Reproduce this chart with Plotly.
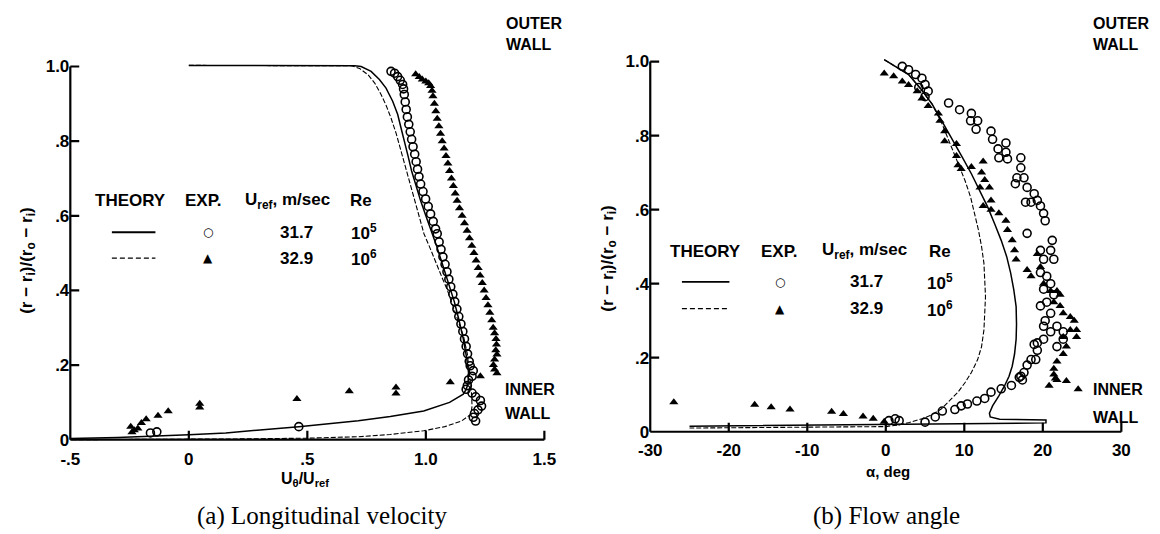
import plotly.graph_objects as go

W, H = 1160, 534

# ---------------- DATA: (a) Longitudinal velocity ----------------
a_theory_solid_x = [0.0, 0.3, 0.5, 0.65, 0.70, 0.727, 0.769, 0.804, 0.832, 0.86, 0.881, 0.895, 0.91, 0.925,
                    0.94, 0.958, 0.978, 1.0, 1.023, 1.045, 1.07, 1.095, 1.12, 1.14, 1.158, 1.172, 1.18, 1.178,
                    1.17, 1.158, 1.10, 0.991, 0.85, 0.715, 0.60, 0.464, 0.30, 0.156, 0.0, -0.12, -0.30, -0.50]
a_theory_solid_y = [1.003, 1.003, 1.003, 1.003, 1.002, 1.0, 0.987, 0.965, 0.942, 0.907, 0.872, 0.836, 0.80, 0.76,
                    0.72, 0.68, 0.64, 0.60, 0.56, 0.52, 0.47, 0.42, 0.37, 0.32, 0.27, 0.22, 0.18, 0.15,
                    0.135, 0.122, 0.10, 0.077, 0.062, 0.051, 0.043, 0.035, 0.026, 0.018, 0.013, 0.010, 0.006, 0.003]
a_theory_dash_x = [0.0, 0.3, 0.6, 0.686, 0.72, 0.756, 0.785, 0.811, 0.833, 0.853, 0.875, 0.895, 0.915, 0.936,
                   0.964, 0.992, 1.02, 1.048, 1.07, 1.09, 1.11, 1.131, 1.159, 1.175, 1.185, 1.192, 1.195, 1.19,
                   1.15, 1.08, 0.991, 0.85, 0.715, 0.50, 0.20, -0.20, -0.50]
a_theory_dash_y = [1.003, 1.003, 1.003, 1.002, 0.995, 0.978, 0.955, 0.925, 0.895, 0.862, 0.82, 0.774, 0.73, 0.685,
                   0.62, 0.552, 0.51, 0.464, 0.432, 0.402, 0.366, 0.331, 0.277, 0.23, 0.18, 0.13, 0.09, 0.068,
                   0.05, 0.035, 0.024, 0.014, 0.008, 0.004, 0.002, 0.001, 0.0]
a_circ_x = [0.853, 0.868, 0.881, 0.892, 0.902, 0.906, 0.909, 0.913, 0.917, 0.922, 0.928, 0.934, 0.94, 0.946,
            0.953, 0.959, 0.965, 0.971, 0.978, 0.988, 0.999, 1.01, 1.02, 1.031, 1.041, 1.048, 1.056, 1.064,
            1.072, 1.081, 1.089, 1.097, 1.105, 1.114, 1.122, 1.131, 1.139, 1.148, 1.156, 1.163, 1.17, 1.176,
            1.183, 1.187, 1.20, 1.195, 1.18, 1.175, 1.17, 1.195, 1.21, 1.23, 1.235, 1.22, 1.205, 1.20, 1.21,
            0.464, -0.162, -0.135]
a_circ_y = [0.987, 0.982, 0.973, 0.963, 0.952, 0.94, 0.925, 0.905, 0.885, 0.865, 0.845, 0.825, 0.805, 0.785,
            0.765, 0.745, 0.725, 0.705, 0.685, 0.665, 0.645, 0.625, 0.605, 0.585, 0.565, 0.552, 0.53, 0.51,
            0.49, 0.47, 0.45, 0.43, 0.41, 0.39, 0.37, 0.35, 0.33, 0.31, 0.29, 0.27, 0.25, 0.23,
            0.21, 0.198, 0.185, 0.17, 0.16, 0.145, 0.135, 0.125, 0.115, 0.105, 0.09, 0.08, 0.07, 0.06, 0.05,
            0.035, 0.018, 0.021]
a_tri_x = [0.957, 0.972, 0.985, 1.0, 1.012, 1.02, 1.026, 1.03, 1.036, 1.042, 1.048, 1.055, 1.062, 1.069,
           1.077, 1.085, 1.093, 1.10, 1.108, 1.116, 1.124, 1.132, 1.142, 1.153, 1.163, 1.174, 1.184, 1.194,
           1.203, 1.212, 1.221, 1.229, 1.238, 1.246, 1.254, 1.262, 1.27, 1.278, 1.284, 1.29, 1.296, 1.298,
           1.295, 1.30, 1.29, 1.285, 1.29, 1.30, 1.23,
           1.103, 0.874, 0.874, 0.677, 0.456, 0.046, 0.046, -0.087, -0.13, -0.18, -0.20, -0.245, -0.23,
           -0.215, -0.24]
a_tri_y = [0.979, 0.972, 0.965, 0.96, 0.955, 0.948, 0.935, 0.92, 0.90, 0.88, 0.86, 0.84, 0.82, 0.80,
           0.78, 0.76, 0.74, 0.72, 0.70, 0.68, 0.66, 0.64, 0.62, 0.60, 0.58, 0.56, 0.54, 0.52,
           0.50, 0.48, 0.46, 0.44, 0.42, 0.40, 0.38, 0.36, 0.34, 0.32, 0.30, 0.285, 0.27, 0.255,
           0.24, 0.228, 0.215, 0.20, 0.188, 0.178, 0.17,
           0.154, 0.14, 0.124, 0.13, 0.109, 0.096, 0.086, 0.076, 0.064, 0.055, 0.045, 0.035, 0.025,
           0.03, 0.02]

# ---------------- DATA: (b) Flow angle ----------------
b_theory_solid_x = [-0.2, 1.0, 2.9, 4.5, 5.9, 7.2, 8.4, 9.7, 10.9, 12.0, 13.0, 13.9, 14.7, 15.4, 15.9, 16.3,
                    16.6, 16.65, 16.6, 16.4, 16.1, 15.7, 15.1, 14.4, 13.6, 13.2, 13.3, 14.5, 20.4, 20.4,
                    10.0, 0.0, -10.0, -25.0]
b_theory_solid_y = [1.005, 0.99, 0.965, 0.925, 0.885, 0.837, 0.79, 0.743, 0.697, 0.65, 0.606, 0.56, 0.517,
                    0.473, 0.429, 0.384, 0.338, 0.29, 0.25, 0.21, 0.177, 0.15, 0.123, 0.097, 0.07, 0.05,
                    0.04, 0.034, 0.032, 0.024, 0.022, 0.02, 0.017, 0.015]
b_theory_dash_x = [-0.2, 1.0, 2.9, 4.5, 5.9, 7.2, 8.4, 9.3, 10.1, 10.8, 11.3, 11.8, 12.2, 12.5, 12.6, 12.7,
                   12.6, 12.5, 12.2, 11.7, 10.9, 10.1, 9.2, 8.2, 7.1, 5.8, 4.6, 3.0, 1.5, 0.0, -10.0, -25.0]
b_theory_dash_y = [1.005, 0.99, 0.965, 0.925, 0.885, 0.83, 0.767, 0.72, 0.678, 0.634, 0.59, 0.545, 0.50,
                   0.455, 0.41, 0.365, 0.32, 0.275, 0.23, 0.195, 0.16, 0.133, 0.107, 0.085, 0.062, 0.045,
                   0.035, 0.025, 0.018, 0.014, 0.012, 0.01]
b_circ_x = [2.1, 2.9, 3.8, 4.6, 5.0, 4.2, 5.4, 5.0, 8.0, 9.4, 10.9, 10.8, 11.7, 11.5, 13.4, 13.6, 14.3,
            15.3, 15.3, 15.5, 14.4, 17.2, 17.2, 16.7, 16.5, 17.6, 18.0, 18.9, 19.3, 18.5, 17.8, 19.7, 20.1,
            20.3, 18.0, 21.2, 21.0, 19.7, 20.1, 21.4, 19.7, 20.5, 21.0, 20.1, 21.4, 20.5, 19.7, 21.0, 20.3,
            20.1, 21.0, 21.8, 22.6, 22.6, 21.8, 20.1, 19.3, 18.9, 19.3, 19.1, 18.5, 18.0, 17.6, 17.2, 17.4,
            17.0, 16.0, 14.7, 13.4, 12.6, 11.6, 10.4, 9.6, 8.8, 7.2, 6.3, 5.0, 1.2, 0.4, 1.7]
b_circ_y = [0.987, 0.978, 0.965, 0.955, 0.938, 0.93, 0.92, 0.905, 0.888, 0.87, 0.86, 0.84, 0.84, 0.817,
            0.812, 0.79, 0.764, 0.78, 0.755, 0.737, 0.74, 0.74, 0.713, 0.686, 0.67, 0.686, 0.66, 0.643,
            0.625, 0.62, 0.62, 0.61, 0.59, 0.57, 0.536, 0.517, 0.49, 0.49, 0.466, 0.466, 0.43, 0.42, 0.40,
            0.385, 0.37, 0.35, 0.34, 0.32, 0.30, 0.285, 0.27, 0.285, 0.27, 0.25, 0.23, 0.25, 0.24, 0.236,
            0.22, 0.195, 0.195, 0.18, 0.16, 0.15, 0.14, 0.147, 0.125, 0.116, 0.107, 0.09, 0.083, 0.075,
            0.07, 0.06, 0.056, 0.04, 0.026, 0.035, 0.03, 0.03]
b_tri_x = [-0.2, 1.0, 2.1, 2.9, 4.0, 4.6, 5.4, 6.7, 6.9, 7.5, 7.5, 9.0, 9.0, 9.2, 9.6, 10.9, 12.4, 12.2,
           12.6, 12.0, 13.2, 13.4, 12.4, 13.4, 14.4, 15.3, 15.5, 16.1, 16.4, 16.6, 18.0, 18.5, 19.3, 19.7,
           20.1, 21.0, 21.8, 22.2, 21.4, 22.2, 22.6, 23.5, 24.0, 24.3, 24.3, 23.5, 22.6, 23.0, 22.6, 21.8,
           21.4, 21.4, 21.8, 20.8, 21.6, 23.0, 24.5,
           -27.0, -16.7, -14.6, -12.2, -6.9, -5.4, -2.9, -1.6, -0.2]
b_tri_y = [0.968, 0.96, 0.946, 0.937, 0.92, 0.90, 0.88, 0.86, 0.84, 0.812, 0.785, 0.777, 0.745, 0.72,
           0.71, 0.715, 0.73, 0.70, 0.68, 0.66, 0.66, 0.625, 0.61, 0.60, 0.59, 0.57, 0.545, 0.517, 0.49,
           0.465, 0.437, 0.42, 0.48, 0.445, 0.40, 0.38, 0.38, 0.37, 0.35, 0.34, 0.32, 0.31, 0.30, 0.275,
           0.256, 0.275, 0.256, 0.23, 0.21, 0.19, 0.17, 0.155, 0.14, 0.124, 0.144, 0.137, 0.115,
           0.08, 0.073, 0.066, 0.06, 0.054, 0.048, 0.041, 0.035, 0.027]

# axis ticks
a_xticks = [-0.5, 0, 0.5, 1.0, 1.5]
a_xlabels = ["-.5", "0", ".5", "1.0", "1.5"]
b_xticks = [-30, -20, -10, 0, 10, 20, 30]
b_xlabels = ["-30", "-20", "-10", "0", "10", "20", "30"]
yticks = [0, 0.2, 0.4, 0.6, 0.8, 1.0]
ylabels = ["0", ".2", ".4", ".6", ".8", "1.0"]

# ---------------- layout helpers (pixel anchors) ----------------
def px(X):
    return X / W

def py(Y):
    return 1 - Y / H

def x_domain(v0, X0, v1, X1, lo, hi):
    s = (X1 - X0) / (v1 - v0)
    return [px(X0 + (lo - v0) * s), px(X0 + (hi - v0) * s)]

def y_domain(v0, Y0, v1, Y1, lo, hi):
    s = (Y1 - Y0) / (v1 - v0)
    return [py(Y0 + (lo - v0) * s), py(Y0 + (hi - v0) * s)]

SANS = "Liberation Sans"
SERIF = "Liberation Serif"

fig = go.Figure()

def add_panel(xa, ya, sx, sy, dx, dy, cx, cy, tx, ty):
    fig.add_trace(go.Scatter(x=sx, y=sy, mode="lines", line=dict(color="black", width=1.5),
                             xaxis=xa, yaxis=ya, hoverinfo="skip"))
    fig.add_trace(go.Scatter(x=dx, y=dy, mode="lines", line=dict(color="black", width=1.1, dash="5px,2px"),
                             xaxis=xa, yaxis=ya, hoverinfo="skip"))
    fig.add_trace(go.Scatter(x=cx, y=cy, mode="markers",
                             marker=dict(symbol="circle-open", size=8, color="black", line=dict(width=1.6)),
                             xaxis=xa, yaxis=ya))
    fig.add_trace(go.Scatter(x=tx, y=ty, mode="markers",
                             marker=dict(symbol="triangle-up", size=8, color="black"),
                             xaxis=xa, yaxis=ya))

add_panel("x", "y", a_theory_solid_x, a_theory_solid_y, a_theory_dash_x, a_theory_dash_y,
          a_circ_x, a_circ_y, a_tri_x, a_tri_y)
add_panel("x2", "y2", b_theory_solid_x, b_theory_solid_y, b_theory_dash_x, b_theory_dash_y,
          b_circ_x, b_circ_y, b_tri_x, b_tri_y)

tickfont = dict(family=SANS, size=17, color="black", weight="bold")
common = dict(showgrid=False, zeroline=False, showline=False, ticks="", tickfont=tickfont, tickmode="array")

# pixel anchors: panel (a) x -0.5 -> 66px, 1.5 -> 545px ; y 0 -> 441px, 1 -> 65px
A_X0, A_X1, A_Y0, A_Y1 = 66, 545, 441, 65
B_X0, B_X1, B_Y0, B_Y1 = 652, 1128, 433, 60

fig.update_layout(
    width=W, height=H, margin=dict(l=0, r=0, t=0, b=0),
    paper_bgcolor="white", plot_bgcolor="rgba(0,0,0,0)", showlegend=False,
    xaxis=dict(domain=x_domain(-0.5, A_X0, 1.5, A_X1, -0.52, 1.52), range=[-0.52, 1.52],
               anchor="free", position=py(A_Y0), tickvals=a_xticks, ticktext=a_xlabels,
               ticklabelstandoff=7, **common),
    yaxis=dict(domain=y_domain(0, A_Y0, 1, A_Y1, -0.02, 1.02), range=[-0.02, 1.02],
               anchor="free", position=px(A_X0), tickvals=yticks, ticktext=ylabels,
               ticklabelstandoff=1, **common),
    xaxis2=dict(domain=x_domain(-30, B_X0, 30, B_X1, -31, 31), range=[-31, 31],
                anchor="free", position=py(B_Y0), tickvals=b_xticks, ticktext=b_xlabels,
                ticklabelstandoff=6, **common),
    yaxis2=dict(domain=y_domain(0, B_Y0, 1, B_Y1, -0.02, 1.02), range=[-0.02, 1.02],
                anchor="free", position=px(B_X0), tickvals=yticks, ticktext=ylabels,
                ticklabelstandoff=1, **common),
)

shapes = []
TL = 9  # tick length in px
for xr, yr, xl, xh, X0, X1, Y0, Y1, xt in (("x", "y", -0.5, 1.5, A_X0, A_X1, A_Y0, A_Y1, a_xticks),
                                            ("x2", "y2", -30, 30, B_X0, B_X1, B_Y0, B_Y1, b_xticks)):
    ux = (xh - xl) / (X1 - X0)      # data units per pixel (x)
    uy = 1.0 / (Y0 - Y1)            # data units per pixel (y)
    # axis lines drawn exactly between end ticks
    shapes.append(dict(type="line", xref=xr, yref=yr, x0=xl, x1=xh, y0=0, y1=0,
                       line=dict(color="black", width=2.2)))
    shapes.append(dict(type="line", xref=xr, yref=yr, x0=xl, x1=xl, y0=0, y1=1,
                       line=dict(color="black", width=2.2)))
    # inward tick marks
    for v in xt[1:]:
        shapes.append(dict(type="line", xref=xr, yref=yr, x0=v, x1=v, y0=0, y1=TL * uy,
                           line=dict(color="black", width=2.2)))
    for v in yticks[1:]:
        shapes.append(dict(type="line", xref=xr, yref=yr, x0=xl, x1=xl + TL * ux, y0=v, y1=v,
                           line=dict(color="black", width=2.2)))

# legend tables
def legend(x_line0, x_line1, x_theory, x_exp, x_sym, x_u, x_num, x_re, x_pow, y_head, y_r1, y_r2):
    shapes.append(dict(type="line", xref="paper", yref="paper", x0=px(x_line0), x1=px(x_line1),
                       y0=py(y_r1), y1=py(y_r1), line=dict(color="black", width=1.8)))
    shapes.append(dict(type="line", xref="paper", yref="paper", x0=px(x_line0), x1=px(x_line1),
                       y0=py(y_r2), y1=py(y_r2), line=dict(color="black", width=1.3, dash="5px,3px")))
    f = dict(family=SANS, size=17, color="black", weight="bold")
    items = [
        (x_theory, y_head, "THEORY", "center"),
        (x_exp, y_head, "EXP.", "center"),
        (x_u, y_head, "U<sub>ref</sub>, m/sec", "center"),
        (x_re, y_head, "Re", "center"),
        (x_sym, y_r1, "○", "center"),
        (x_sym, y_r2, "▲", "center"),
        (x_num, y_r1, "31.7", "center"),
        (x_num, y_r2, "32.9", "center"),
        (x_pow, y_r1, "10<sup>5</sup>", "left"),
        (x_pow, y_r2, "10<sup>6</sup>", "left"),
    ]
    out = []
    for X, Y, t, anc in items:
        ff = dict(f)
        if t == "○":
            ff = dict(family="DejaVu Sans", size=12, color="black", weight="bold")
        if t == "▲":
            ff = dict(family="DejaVu Sans", size=12, color="black")
        out.append(dict(x=px(X), y=py(Y), xref="paper", yref="paper", text=t, showarrow=False,
                        xanchor=anc, yanchor="middle", font=ff))
    return out

annotations = []
annotations += legend(108, 152, 127, 201, 205, 285, 295, 360, 348, 200, 232, 258)
annotations += legend(684, 732, 708, 783, 783, 868, 870, 945, 930, 251, 282, 309)

def txt(X, Y, t, size=16, family=SANS, anchor="left", weight="bold", angle=0):
    annotations.append(dict(x=px(X), y=py(Y), xref="paper", yref="paper", text=t, showarrow=False,
                            xanchor=anchor, yanchor="middle", textangle=angle,
                            font=dict(family=family, size=size, color="black", weight=weight)))

# wall labels
txt(504, 22, "OUTER"); txt(504, 43, "WALL")
txt(503, 390, "INNER"); txt(503, 415, "WALL")
txt(1097, 22, "OUTER"); txt(1097, 43, "WALL")
txt(1097, 390, "INNER"); txt(1097, 419, "WALL")

# axis titles
ytitle = "(r − r<sub>i</sub>)/(r<sub>o</sub> − r<sub>i</sub>)"
txt(23, 260, ytitle, size=17, anchor="center", angle=-90)
txt(610, 258, ytitle, size=17, anchor="center", angle=-90)
txt(303, 481, "U<sub>θ</sub>/U<sub>ref</sub>", size=16, anchor="center")
txt(892, 473, "α, deg", size=15, anchor="center")

# captions
txt(320, 518, "(a) Longitudinal velocity", size=25, family=SERIF, anchor="center", weight="normal")
txt(891, 518, "(b) Flow angle", size=25, family=SERIF, anchor="center", weight="normal")

fig.update_layout(shapes=shapes, annotations=annotations)
fig.write_html("out.html")
